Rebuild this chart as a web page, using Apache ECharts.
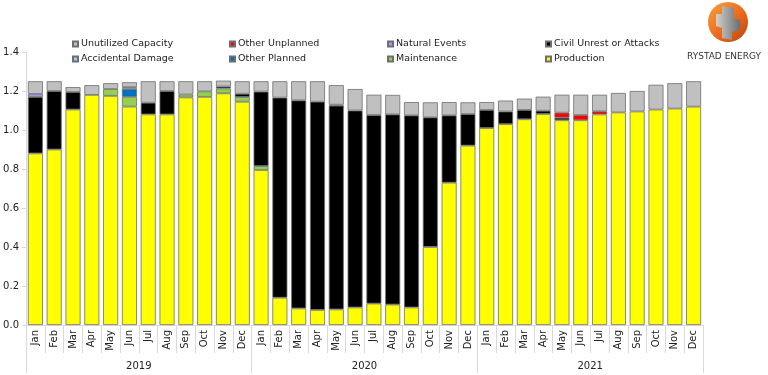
<!DOCTYPE html>
<html>
<head>
<meta charset="utf-8">
<script src="https://cdn.jsdelivr.net/npm/echarts@6/dist/echarts.min.js"></script>
<style>html,body{margin:0;padding:0;background:#fff;}#c{width:768px;height:375px;}</style>
</head>
<body>
<div id="c"></div>
<script>
const months = ['Jan','Feb','Mar','Apr','May','Jun','Jul','Aug','Sep','Oct','Nov','Dec',
  'Jan','Feb','Mar','Apr','May','Jun','Jul','Aug','Sep','Oct','Nov','Dec',
  'Jan','Feb','Mar','Apr','May','Jun','Jul','Aug','Sep','Oct','Nov','Dec'];
const years = ['2019','2020','2021'];
const yTicks = [0, 0.2, 0.4, 0.6, 0.8, 1.0, 1.2, 1.4];

const production = [0.88,0.90,1.105,1.18,1.175,1.12,1.08,1.08,1.167,1.17,1.188,1.145,
  0.795,0.14,0.085,0.077,0.08,0.09,0.11,0.105,0.09,0.40,0.73,0.92,
  1.01,1.03,1.055,1.082,1.05,1.05,1.08,1.09,1.095,1.105,1.11,1.12];
const maintenance = [0,0,0,0,0.035,0.05,0,0,0.015,0.028,0.025,0.024,
  0.02,0,0,0,0,0,0,0,0,0,0,0,
  0,0,0,0,0,0,0,0,0,0,0,0];
const civilUnrest = [0.29,0.30,0.09,0,0,0,0.06,0.12,0,0,0.01,0.017,
  0.382,1.026,1.067,1.068,1.045,1.01,0.967,0.975,0.985,0.665,0.345,0.162,
  0.093,0.065,0.048,0.017,0.013,0,0,0,0,0,0,0];
const naturalEvents = [0.015,0,0,0,0,0,0,0,0,0,0,0,
  0,0,0,0,0,0,0,0,0,0,0,0,
  0,0,0,0,0,0,0,0,0,0,0,0];
const otherPlanned = [0,0,0,0,0,0.04,0,0,0,0,0,0,
  0,0,0,0,0,0,0,0,0,0,0,0,
  0,0,0,0,0,0,0,0,0,0,0,0];
const accidentalDamage = [0,0,0,0,0,0.01,0,0,0,0,0,0,
  0,0,0,0,0,0,0,0,0,0,0,0,
  0,0,0,0,0,0,0,0,0,0,0,0];
const otherUnplanned = [0,0,0,0,0,0,0,0,0,0,0,0,
  0,0,0,0,0.005,0,0,0,0,0,0,0,
  0,0,0,0,0.026,0.027,0.016,0,0,0,0,0];
const unutilized = [0.065,0.05,0.025,0.05,0.03,0.025,0.11,0.05,0.068,0.052,0.03,0.064,
  0.053,0.084,0.098,0.105,0.10,0.11,0.104,0.10,0.068,0.077,0.068,0.06,
  0.04,0.056,0.058,0.072,0.092,0.104,0.085,0.10,0.105,0.127,0.13,0.13];

const FONT = 'DejaVu Sans';
const seriesDefs = [
  {name:'Production', data:production, color:'#ffff00'},
  {name:'Maintenance', data:maintenance, color:'#92d050'},
  {name:'Civil Unrest or Attacks', data:civilUnrest, color:'#000000'},
  {name:'Natural Events', data:naturalEvents, color:'#9999ff'},
  {name:'Other Planned', data:otherPlanned, color:'#0070c0'},
  {name:'Accidental Damage', data:accidentalDamage, color:'#99ccff'},
  {name:'Other Unplanned', data:otherUnplanned, color:'#ff0000'},
  {name:'Unutilized Capacity', data:unutilized, color:'#c0c0c0'}
];

const series = seriesDefs.map(s => ({
  name: s.name, type: 'bar', stack: 'total', barWidth: 15,
  xAxisIndex: 0, yAxisIndex: 0,
  itemStyle: {color: s.color, borderColor: '#6e6e6e', borderWidth: 0.8},
  emphasis: {disabled: true},
  data: s.data.map(v => v === 0 ? '-' : v)
}));

const legendLayout = [
  ['Unutilized Capacity', 72, 39], ['Other Unplanned', 229, 39], ['Natural Events', 387, 39], ['Civil Unrest or Attacks', 545, 39],
  ['Accidental Damage', 72, 54], ['Other Planned', 229, 54], ['Maintenance', 387, 54], ['Production', 545, 54]
];
const legends = legendLayout.map(l => ({
  data: [l[0]], left: l[1], top: l[2], padding: 0,
  itemWidth: 5, itemHeight: 5, icon: 'rect', selectedMode: false,
  textStyle: {fontFamily: FONT, fontSize: 9.5, color: '#222', padding: [0,0,0,-2]}
}));

const chart = echarts.init(document.getElementById('c'), null, {renderer: 'canvas'});
chart.setOption({
  animation: false,
  backgroundColor: '#fff',
  legend: legends,
  grid: {left: 26, right: 65, top: 52, bottom: 50, containLabel: false},
  xAxis: [
    {type: 'category', data: months, position: 'bottom',
     axisLine: {show: true, lineStyle: {color: '#d9d9d9'}},
     axisTick: {show: true, interval: 0, length: 28, lineStyle: {color: '#d9d9d9'}},
     axisLabel: {interval: 0, rotate: 90, margin: 5, fontFamily: FONT, fontSize: 10, color: '#222'}},
    {type: 'category', data: years, position: 'bottom', offset: 28,
     axisLine: {show: false},
     axisTick: {show: true, interval: 0, length: 20, lineStyle: {color: '#d9d9d9'}},
     axisLabel: {interval: 0, margin: 8, fontFamily: FONT, fontSize: 10, color: '#222'}}
  ],
  yAxis: {type: 'value', min: yTicks[0], max: yTicks[yTicks.length-1], interval: 0.2,
    splitLine: {show: false},
    axisLine: {show: true, lineStyle: {color: '#d9d9d9'}},
    axisTick: {show: true, length: 4, lineStyle: {color: '#d9d9d9'}},
    axisLabel: {margin: 7, fontFamily: FONT, fontSize: 10, color: '#222', formatter: v => v.toFixed(1)}},
  series: series,
  graphic: [
    {type: 'circle', shape: {cx: 728, cy: 22, r: 20},
     style: {fill: new echarts.graphic.LinearGradient(0, 0, 1, 1, [
       {offset: 0, color: '#f9a23a'}, {offset: 0.6, color: '#e8641b'}, {offset: 1, color: '#b8430e'}])}},
    {type: 'polygon', shape: {points: [[722,6],[734,8],[734,18],[740,20],[740,30],[732,32],[732,40],[722,38],[722,28],[716,26],[716,14],[722,14]]},
     style: {fill: new echarts.graphic.LinearGradient(0, 0, 1, 0, [
       {offset: 0, color: '#d0d0d0'}, {offset: 1, color: '#6e6e6e'}])}},
    {type: 'text', left: 687, top: 52,
     style: {text: 'RYSTAD ENERGY', fontFamily: FONT, fontSize: 9, fill: '#333'}}
  ]
});
</script>
</body>
</html>
